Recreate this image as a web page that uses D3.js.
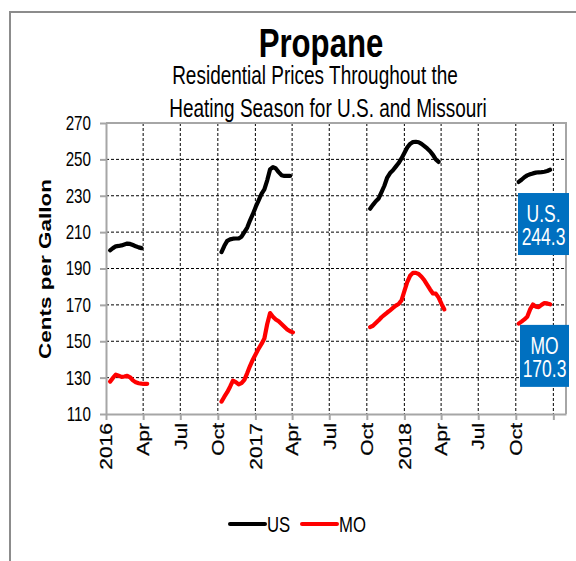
<!DOCTYPE html>
<html>
<head>
<meta charset="utf-8">
<script src="https://cdn.jsdelivr.net/npm/d3@7"></script>
<style>
  html, body { margin: 0; padding: 0; background: #fff; }
  svg { display: block; }
  text { font-family: "Liberation Sans", Arial, sans-serif; }
</style>
</head>
<body>
<svg id="chart" width="576" height="561"></svg>
<script>
// weekly heating season prices, cents per gallon
var seasonStarts = ["2016-01-11", "2016-10-10", "2017-10-09", "2018-10-08"];

var usSeasons = [
	[200.0, 201.2, 202.2, 202.4, 202.7, 203.2, 203.7, 203.5, 202.9, 202.2, 201.6, 201.2],
	[199.0, 202.5, 205.2, 206.0, 206.4, 206.5, 206.5, 207.5, 210.0, 212.5, 216.5, 220.0, 224.0,
	 227.5, 231.0, 233.5, 238.5, 244.5, 245.8, 245.0, 243.0, 241.3, 240.9, 240.9, 240.9],
	[222.9, 225.0, 227.0, 228.5, 232.0, 235.5, 240.0, 242.5, 244.0, 246.0, 248.0, 250.5, 253.5,
	 256.5, 258.5, 259.5, 259.7, 259.4, 258.5, 257.3, 256.0, 254.5, 252.5, 250.0, 248.6],
	[237.6, 238.8, 240.2, 241.2, 241.8, 242.3, 242.7, 242.9, 243.0, 243.2, 243.6, 244.3]
];

var moSeasons = [
	[127.8, 129.8, 131.6, 131.0, 130.4, 130.6, 131.0, 130.2, 128.5, 127.4, 126.9, 126.7, 126.6, 126.6],
	[116.8, 119.5, 122.0, 125.0, 128.3, 127.5, 126.3, 127.0, 128.8, 132.5, 136.5, 140.0, 143.0,
	 146.0, 148.5, 151.5, 159.5, 165.5, 163.5, 162.0, 161.0, 159.5, 158.0, 156.5, 155.5, 154.9],
	[157.8, 158.5, 160.0, 161.5, 163.2, 164.5, 165.8, 167.0, 168.3, 169.6, 170.5, 172.5, 177.5,
	 182.5, 186.0, 187.6, 187.6, 187.0, 185.5, 183.5, 181.0, 178.5, 176.3, 176.2, 174.0, 170.5, 167.5],
	[159.7, 160.8, 162.0, 163.5, 167.5, 170.2, 169.0, 168.8, 170.0, 171.0, 170.8, 170.3]
];

var yTicks = [110, 130, 150, 170, 190, 210, 230, 250, 270];
var xTickDates = ["2016-01-01", "2016-04-01", "2016-07-01", "2016-10-01", "2017-01-01", "2017-04-01",
	"2017-07-01", "2017-10-01", "2018-01-01", "2018-04-01", "2018-07-01", "2018-10-01", "2019-01-01"];
var xTickLabels = ["2016", "Apr", "Jul", "Oct", "2017", "Apr", "Jul", "Oct", "2018", "Apr", "Jul", "Oct", ""];

var seriesNames = ["US", "MO"];
var seriesColors = ["#000000", "#ff0000"];
var latestLabels = [["U.S.", "244.3"], ["MO", "170.3"]];

var parse = d3.timeParse("%Y-%m-%d");

// the source picture is squeezed sideways, so text is drawn narrow
var SQUEEZE = 0.76;

var svg = d3.select("#chart");

var x = d3.scaleTime()
	.domain([parse("2016-01-01"), parse("2019-02-01")])
	.range([106, 566]);

var y = d3.scaleLinear()
	.domain([110, 270])
	.range([414, 123]);

function narrowText(g, px, py, size) {
	return g.append("text")
		.attr("transform", "translate(" + px + "," + py + ") scale(" + SQUEEZE + ",1)")
		.attr("font-size", size);
}

// outer chart frame
svg.append("path")
	.attr("d", "M10,561 V12 H576")
	.attr("fill", "none")
	.attr("stroke", "#8c8c8c")
	.attr("stroke-width", 2);

// titles
narrowText(svg, 321, 57, 41)
	.attr("text-anchor", "middle")
	.attr("font-weight", "bold")
	.text("Propane");

narrowText(svg, 315, 84, 25)
	.attr("text-anchor", "middle")
	.text("Residential Prices Throughout the");

narrowText(svg, 328, 117, 25)
	.attr("text-anchor", "middle")
	.text("Heating Season for U.S. and Missouri");

// dashed grid
var grid = svg.append("g").attr("class", "grid");

grid.selectAll("line.h")
	.data(yTicks.slice(1))
	.enter().append("line")
	.attr("class", "h")
	.attr("x1", 106).attr("x2", 566)
	.attr("y1", function(d) { return y(d); })
	.attr("y2", function(d) { return y(d); });

grid.selectAll("line.v")
	.data(xTickDates.slice(1))
	.enter().append("line")
	.attr("class", "v")
	.attr("y1", 123).attr("y2", 414)
	.attr("x1", function(d) { return x(parse(d)); })
	.attr("x2", function(d) { return x(parse(d)); });

grid.selectAll("line")
	.attr("stroke", "#000")
	.attr("stroke-width", 1)
	.attr("stroke-dasharray", "3,2");

// plot border (top/right)
svg.append("path")
	.attr("d", "M106,123 H566 V414")
	.attr("fill", "none")
	.attr("stroke", "#a6a6a6")
	.attr("stroke-width", 2);

// y axis
var yAxis = svg.append("g")
	.attr("transform", "translate(106,0)")
	.call(d3.axisLeft(y).tickValues(yTicks).tickSize(6).tickPadding(9).tickSizeOuter(0));

yAxis.select(".domain").attr("stroke", "#a6a6a6").attr("stroke-width", 2);
yAxis.selectAll(".tick line").attr("stroke", "#a6a6a6").attr("stroke-width", 2);
yAxis.selectAll(".tick text")
	.attr("x", null)
	.attr("transform", "translate(-15,0) scale(" + SQUEEZE + ",1)")
	.attr("font-size", 20)
	.attr("font-family", null)
	.attr("fill", "#000");

// x axis
var xAxis = svg.append("g")
	.attr("transform", "translate(0,414)")
	.call(d3.axisBottom(x)
		.tickValues(xTickDates.map(parse))
		.tickFormat(function(d, i) { return xTickLabels[i]; })
		.tickSize(6)
		.tickSizeOuter(0));

xAxis.select(".domain").attr("stroke", "#a6a6a6").attr("stroke-width", 2);
xAxis.selectAll(".tick line").attr("stroke", "#a6a6a6").attr("stroke-width", 2);
xAxis.selectAll(".tick text")
	.attr("transform", "rotate(-90) scale(1," + SQUEEZE + ")")
	.attr("x", -9)
	.attr("y", 0)
	.attr("dy", "0.36em")
	.attr("text-anchor", "end")
	.attr("font-family", null)
	.attr("font-size", 21)
	.attr("stroke", "#000")
	.attr("stroke-width", 0.3)
	.attr("fill", "#000");

// y axis title
svg.append("text")
	.attr("transform", "translate(51,269) rotate(-90) scale(1," + SQUEEZE + ")")
	.attr("text-anchor", "middle")
	.attr("font-weight", "bold")
	.attr("font-size", 22.5)
	.text("Cents per Gallon");

// price lines, one path per season
var line = d3.line()
	.x(function(d) { return x(d.date); })
	.y(function(d) { return y(d.value); });

function weekly(seasons) {
	return seasons.map(function(vals, s) {
		var start = parse(seasonStarts[s]);
		return vals.map(function(v, i) {
			return { date: d3.timeDay.offset(start, 7 * i), value: v };
		});
	});
}

[usSeasons, moSeasons].forEach(function(seasons, k) {
	svg.append("g")
		.selectAll("path")
		.data(weekly(seasons))
		.enter().append("path")
		.attr("d", line)
		.attr("fill", "none")
		.attr("stroke", seriesColors[k])
		.attr("stroke-width", 4.2)
		.attr("stroke-linejoin", "round")
		.attr("stroke-linecap", "round");
});

// latest value call-outs
var boxes = [
	{ lines: latestLabels[0], at: 231.5, x0: 518, x1: 569 },
	{ lines: latestLabels[1], at: 159, x0: 520, x1: 569 }
];
boxes.forEach(function(b) {
	var yTop = y(b.at);
	var g = svg.append("g");
	g.append("rect")
		.attr("x", b.x0).attr("y", yTop)
		.attr("width", b.x1 - b.x0).attr("height", 62)
		.attr("fill", "#0070c0");
	b.lines.forEach(function(t, i) {
		narrowText(g, (b.x0 + b.x1) / 2, yTop + 29 + i * 23, 23)
			.attr("text-anchor", "middle")
			.attr("fill", "#fff")
			.text(t);
	});
});

// legend
var legend = svg.append("g").attr("transform", "translate(230,524)");
seriesNames.forEach(function(name, i) {
	var lg = legend.append("g").attr("transform", "translate(" + (i * 72) + ",0)");
	lg.append("line")
		.attr("x1", 0).attr("x2", 35)
		.attr("stroke", seriesColors[i])
		.attr("stroke-width", 4)
		.attr("stroke-linecap", "round");
	narrowText(lg, 37, 8, 22).text(name);
});
</script>
</body>
</html>
